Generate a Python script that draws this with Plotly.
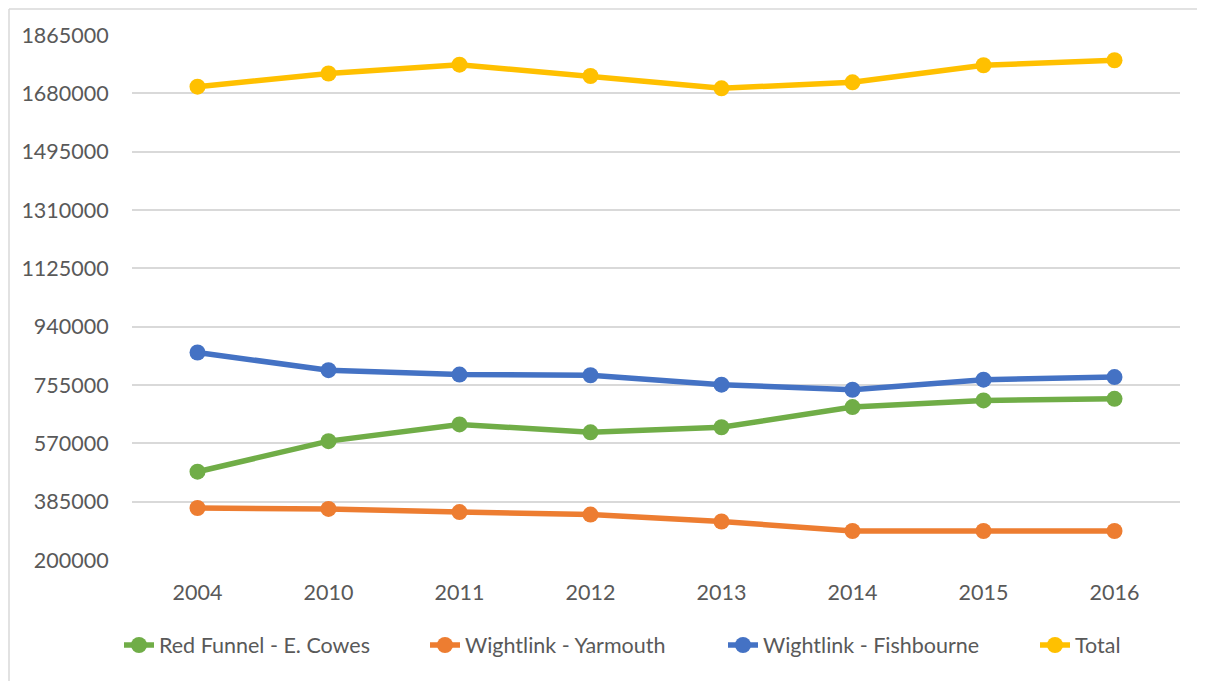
import plotly.graph_objects as go

years = ["2004", "2010", "2011", "2012", "2013", "2014", "2015", "2016"]
red_funnel = [480000, 577000, 630000, 605000, 621000, 685000, 706000, 711000]
yarmouth = [365000, 362000, 352000, 344000, 322000, 292000, 292000, 292000]
fishbourne = [858000, 802000, 788000, 786000, 756000, 740000, 772000, 780000]
total = [1701000, 1743000, 1771000, 1735000, 1696000, 1715000, 1769000, 1785000]

names = ["Red Funnel - E. Cowes", "Wightlink - Yarmouth", "Wightlink - Fishbourne", "Total"]
colors = ["#70AD47", "#ED7D31", "#4472C4", "#FFC000"]
series = [red_funnel, yarmouth, fishbourne, total]

FONT = "Lato"
TXT = "#595959"
FS = 21.5

# page body has an 8px margin; figure coords = screen coords - 8
OFF = 8
W, H = 1205 - OFF, 681 - OFF
L, T = 132 - OFF, 35 - OFF
R = W - (1180 - OFF)
B = H - (560 - OFF)
pw = W - L - R
ph = H - T - B

legend_keys = ["legend", "legend2", "legend3", "legend4"]
text_starts = [159, 465, 763, 1075]  # screen x where legend text begins
TEXT_OFFSET = 40

fig = go.Figure()
for n, c, s, lk in zip(names, colors, series, legend_keys):
    fig.add_trace(go.Scatter(
        x=years, y=s, name=n, mode="lines+markers",
        line=dict(color=c, width=5.5),
        marker=dict(color=c, size=16),
        legend=lk,
    ))

legends = {}
for lk, ts in zip(legend_keys, text_starts):
    legends[lk] = dict(
        orientation="h", xref="container", yref="container",
        x=(ts - OFF - TEXT_OFFSET) / W, xanchor="left",
        y=1 - (645 - OFF) / H, yanchor="middle",
        font=dict(family=FONT, size=FS, color=TXT),
        bgcolor="rgba(0,0,0,0)", borderwidth=0,
    )

bx = (1 - L) / pw
by = 1 + (T - 1) / ph
border = dict(color="#D9D9D9", width=1.5)

fig.update_layout(
    width=W, height=H,
    margin=dict(l=L, r=R, t=T, b=B),
    paper_bgcolor="white", plot_bgcolor="white",
    font=dict(family=FONT, size=FS, color=TXT),
    showlegend=True,
    xaxis=dict(
        type="category", range=[-0.5, 7.5],
        showgrid=False, zeroline=False, showline=False,
        ticks="outside", ticklen=13, tickcolor="rgba(0,0,0,0)",
        tickfont=dict(family=FONT, size=FS, color=TXT),
    ),
    yaxis=dict(
        range=[200000, 1865000], tick0=200000, dtick=185000,
        tickformat="d",
        showgrid=True, gridcolor="#D9D9D9", gridwidth=1.5,
        zeroline=False, showline=False,
        ticks="outside", ticklen=18, tickcolor="rgba(0,0,0,0)",
        tickfont=dict(family=FONT, size=FS, color=TXT),
    ),
    shapes=[
        dict(type="line", xref="paper", yref="paper",
             x0=bx, x1=bx, y0=-(B + 5) / ph, y1=by, line=border, layer="below"),
        dict(type="line", xref="paper", yref="paper",
             x0=bx, x1=(W + 5 - L) / pw, y0=by, y1=by, line=border, layer="below"),
    ],
    **legends,
)

fig.write_html("out.html")
